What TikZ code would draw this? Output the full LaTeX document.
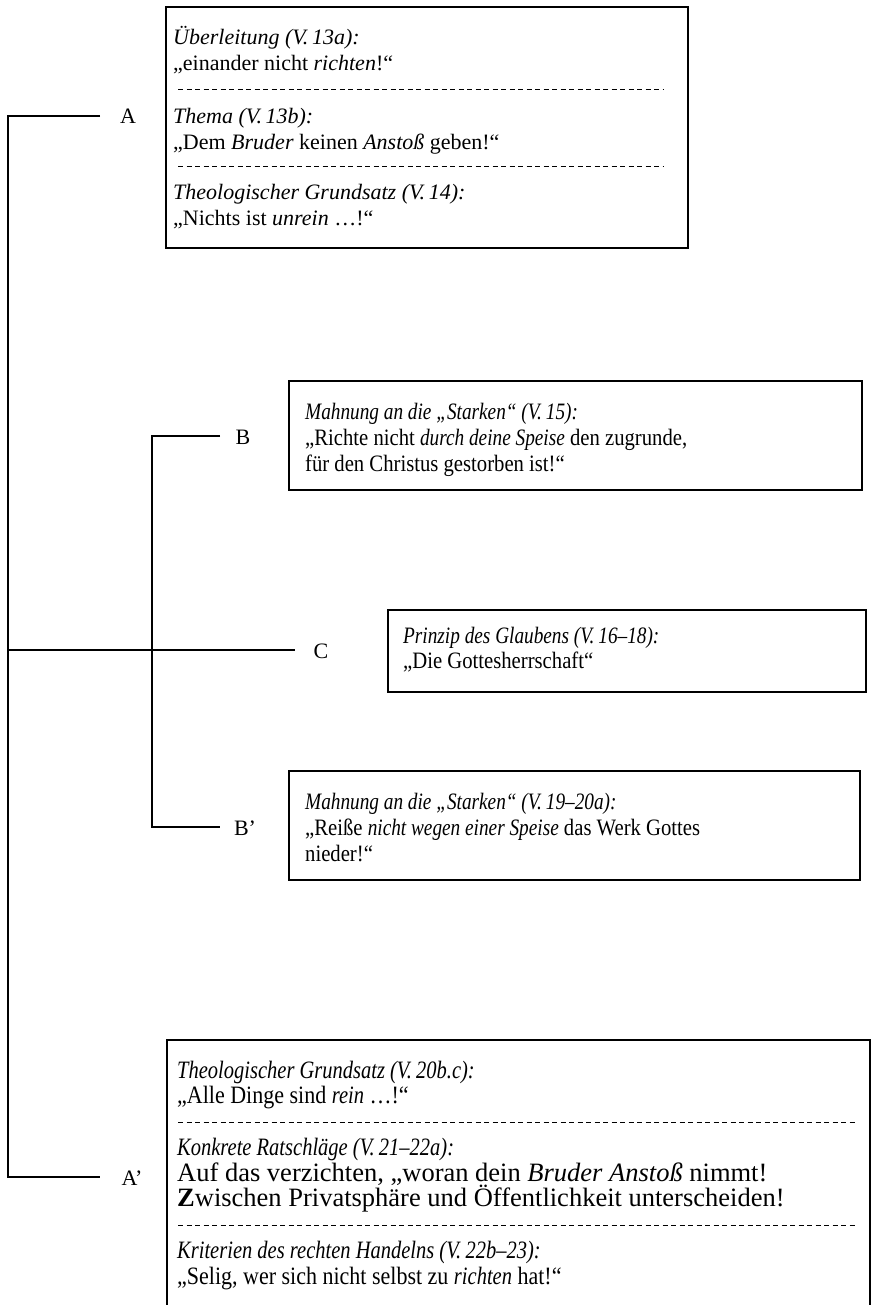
\documentclass[tikz,border=0pt]{standalone}
\usepackage{fontspec}
\setmainfont{Liberation Serif}
\newfontfamily\condfont[FakeStretch=0.88, ItalicFeatures={FakeStretch=0.82}]{Liberation Serif}
\begin{document}
\begin{tikzpicture}[x=1bp,y=-1bp,
  box/.style={draw, line width=1.2bp, inner sep=0, outer sep=0, anchor=north west},
  tl/.style={anchor=base west, inner sep=0, font=\fontsize{22bp}{26bp}\selectfont},
  cl/.style={anchor=base west, inner sep=0, font=\condfont\fontsize{23.5bp}{26bp}\selectfont},
  bl/.style={anchor=base west, inner sep=0, font=\condfont\fontsize{25bp}{26bp}\selectfont},
  wl/.style={anchor=base west, inner sep=0, font=\fontsize{26.5bp}{26bp}\selectfont},
  lbl/.style={anchor=base, inner sep=0, font=\fontsize{22bp}{26bp}\selectfont},
  sep/.style={dash pattern=on 5bp off 3.5bp, line width=1bp},
  tree/.style={line width=1.4bp}]
\useasboundingbox (0,0) rectangle (872,1305);

% ---------- Box A ----------
\node[box, minimum width=522bp, minimum height=241bp] (boxA) at (166,7) {};
\node[tl] (a1) at (173,45) {\itshape Überleitung (V.\,13a):};
\node[tl] (a2) at (173,71) {„einander nicht \textit{richten}!“};
\coordinate (da1) at (178,90); \coordinate (da2) at (664,90);
\draw[sep] (da1) -- (da2);
\node[tl] (a3) at (173,124) {\itshape Thema (V.\,13b):};
\node[tl] (a4) at (173,150) {„Dem \textit{Bruder} keinen \textit{Anstoß} geben!“};
\coordinate (db1) at (178,167); \coordinate (db2) at (664,167);
\draw[sep] (db1) -- (db2);
\node[tl] (a5) at (173,200) {\itshape Theologischer Grundsatz (V.\,14):};
\node[tl] (a6) at (173,226) {„Nichts ist \textit{unrein} …!“};

% ---------- Box B ----------
\node[box, minimum width=573bp, minimum height=109bp] (boxB) at (289,381) {};
\node[cl] (b1) at (305,419) {\itshape Mahnung an die „Starken“ (V.\,15):};
\node[cl] (b2) at (305,445) {„Richte nicht \textit{durch deine Speise} den zugrunde,};
\node[cl] (b3) at (305,471) {für den Christus gestorben ist!“};

% ---------- Box C ----------
\node[box, minimum width=478bp, minimum height=82bp] (boxC) at (388,610) {};
\node[cl] (c1) at (403,643) {\itshape Prinzip des Glaubens (V.\,16–18):};
\node[cl] (c2) at (403,668) {„Die Gottesherrschaft“};

% ---------- Box B' ----------
\node[box, minimum width=571bp, minimum height=109bp] (boxBB) at (289,771) {};
\node[cl] (bb1) at (305,809) {\itshape Mahnung an die „Starken“ (V.\,19–20a):};
\node[cl] (bb2) at (305,835) {„Reiße \textit{nicht wegen einer Speise} das Werk Gottes};
\node[cl] (bb3) at (305,861) {nieder!“};

% ---------- Box A' (open at the bottom) ----------
\coordinate (ab1) at (167,1306); \coordinate (ab2) at (167,1040);
\coordinate (ab3) at (870,1040); \coordinate (ab4) at (870,1306);
\draw[line width=1.2bp] (ab1) -- (ab2) -- (ab3) -- (ab4);
\node[bl] (aa1) at (177,1078) {\itshape Theologischer Grundsatz (V.\,20b.c):};
\node[bl] (aa2) at (177,1103) {„Alle Dinge sind \textit{rein} …!“};
\coordinate (dc1) at (178,1122); \coordinate (dc2) at (858,1122);
\draw[sep] (dc1) -- (dc2);
\node[bl] (aa3) at (177,1155) {\itshape Konkrete Ratschläge (V.\,21–22a):};
\node[wl] (aa4) at (177,1181) {Auf das verzichten, „woran dein \textit{Bruder Anstoß} nimmt!};
\node[wl] (aa5) at (177,1206) {\textbf{Z}wischen Privatsphäre und Öffentlichkeit unterscheiden!};
\coordinate (dd1) at (178,1225); \coordinate (dd2) at (858,1225);
\draw[sep] (dd1) -- (dd2);
\node[bl] (aa6) at (177,1258) {\itshape Kriterien des rechten Handelns (V.\,22b–23):};
\node[bl] (aa7) at (177,1284) {„Selig, wer sich nicht selbst zu \textit{richten} hat!“};

% ---------- Tree ----------
\coordinate (sA) at (8,116);  \coordinate (eA) at (100,116);
\coordinate (sC) at (8,650);  \coordinate (eC) at (295,650);
\coordinate (sAA) at (8,1177); \coordinate (eAA) at (100,1177);
\coordinate (sB) at (152,436); \coordinate (eB) at (220,436);
\coordinate (sBB) at (152,827); \coordinate (eBB) at (220,827);
\draw[tree] (eA) -- (sA) -- (sAA) -- (eAA);
\draw[tree] (sC) -- (eC);
\draw[tree] (eB) -- (sB) -- (sBB) -- (eBB);
\node[lbl] (lA) at (128,124) {A};
\node[lbl] (lB) at (243,444) {B};
\node[lbl] (lC) at (321,658) {C};
\node[lbl] (lBB) at (245,835) {B’};
\node[lbl] (lAA) at (132,1185) {A’};
\end{tikzpicture}
\end{document}
